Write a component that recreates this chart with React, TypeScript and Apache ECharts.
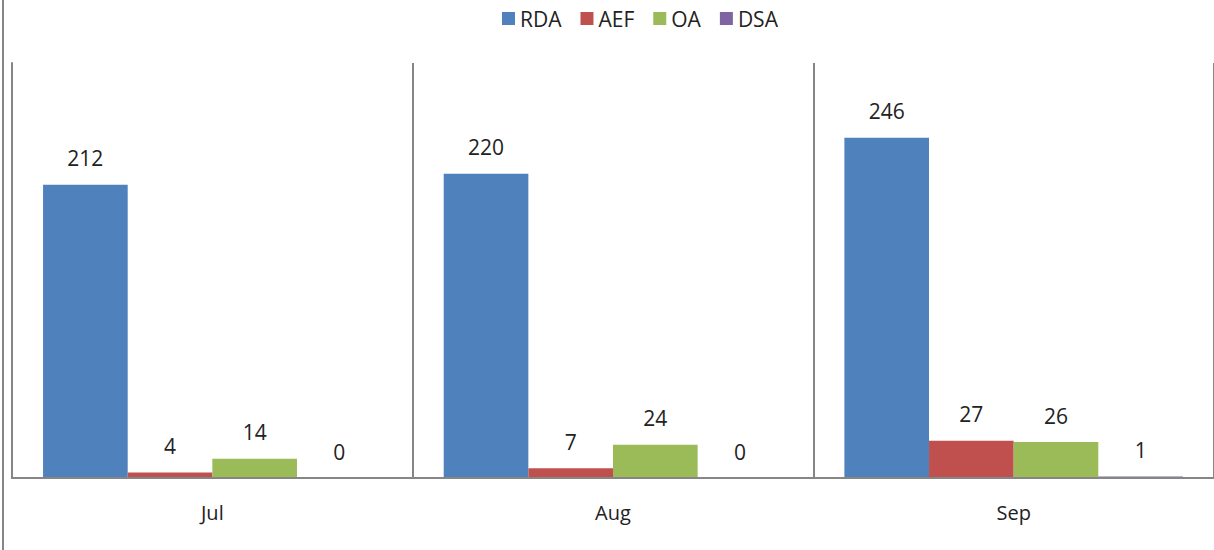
import React, { useEffect, useRef } from "react";
import * as echarts from "echarts";

const categories = ["Jul", "Aug", "Sep"];
const rdaValues = [212, 220, 246];
const aefValues = [4, 7, 27];
const oaValues = [14, 24, 26];
const dsaValues = [0, 0, 1];
const seriesNames = ["RDA", "AEF", "OA", "DSA"];
const seriesColors = ["#4F81BD", "#C0504D", "#9BBB59", "#8064A2"];

export default function App() {
  const ref = useRef<HTMLDivElement>(null);
  useEffect(() => {
    if (!ref.current) return;
    const chart = echarts.init(ref.current, undefined, { renderer: "svg" });
    const font = "'Open Sans', 'Noto Sans', sans-serif";
    const data = [rdaValues, aefValues, oaValues, dsaValues];
    chart.setOption({
      animation: false,
      backgroundColor: "#ffffff",
      textStyle: { fontFamily: font },
      legend: {
        top: 3,
        left: 497,
        icon: "rect",
        itemWidth: 13,
        itemHeight: 13,
        itemGap: 19,
        textStyle: { fontFamily: font, fontSize: 21, color: "#222" },
        data: seriesNames,
      },
      grid: { left: 12, top: 63, width: 1204.5, bottom: 72, containLabel: false },
      xAxis: {
        type: "category",
        data: categories,
        boundaryGap: true,
        z: 3,
        axisLine: { show: true, lineStyle: { color: "#868686", width: 2 } },
        axisTick: { show: false },
        splitLine: { show: true, lineStyle: { color: "#868686", width: 2 } },
        axisLabel: { fontFamily: font, fontSize: 20, color: "#222", margin: 24 },
      },
      yAxis: {
        type: "value",
        min: 0,
        max: 300,
        axisLine: { show: true, lineStyle: { color: "#868686", width: 2 } },
        axisTick: { show: false },
        axisLabel: { show: false },
        splitLine: { show: false },
      },
      graphic: [
        {
          type: "line",
          shape: { x1: 3, y1: 0, x2: 3, y2: 550 },
          style: { stroke: "#868686", lineWidth: 2 },
        },
      ],
      series: seriesNames.map((name, i) => ({
        name,
        type: "bar",
        data: data[i],
        barGap: "0%",
        barCategoryGap: "15.5%",
        itemStyle: { color: seriesColors[i] },
        label: {
          show: true,
          position: "top",
          distance: 16,
          fontFamily: font,
          fontSize: 21,
          color: "#222",
        },
      })),
    });
    return () => chart.dispose();
  }, []);
  return (
    <div
      ref={ref}
      style={{ position: "fixed", left: 0, top: 0, width: 1214, height: 550 }}
    />
  );
}
